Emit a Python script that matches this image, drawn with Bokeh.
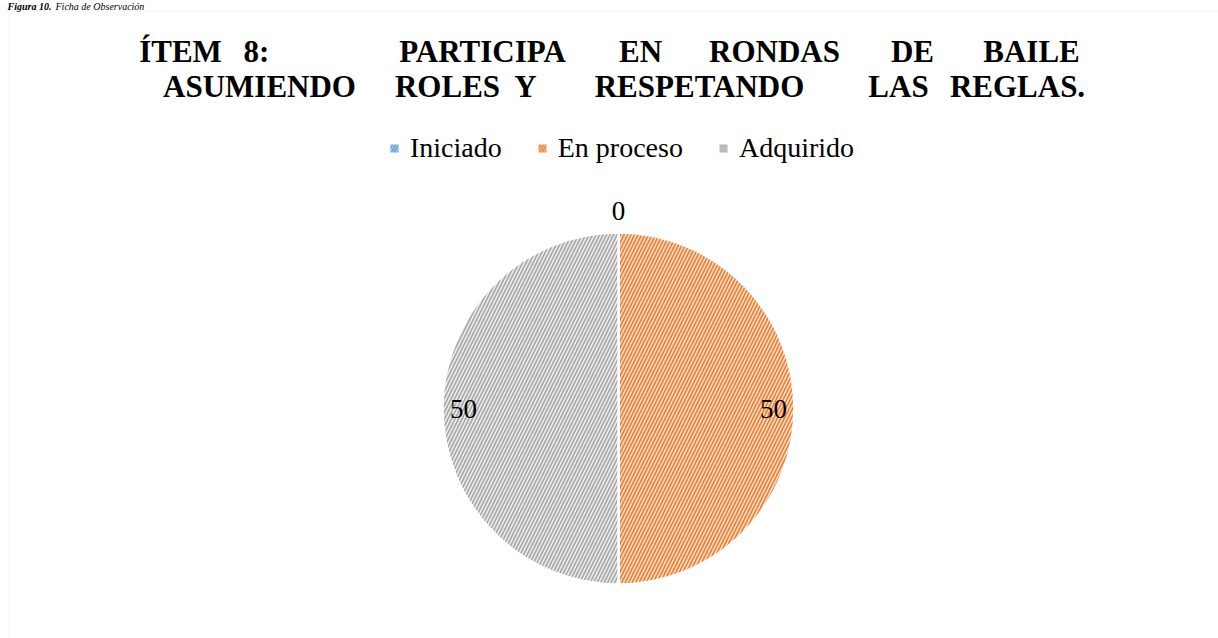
import math
from bokeh.plotting import figure
from bokeh.models import Range1d, Legend, LegendItem, BoxAnnotation, ColumnDataSource
from bokeh.core.properties import value
from bokeh.embed import file_html
from bokeh.resources import INLINE

# ---- data ----
categories = ["Iniciado", "En proceso", "Adquirido"]
values = [0, 50, 50]
title_line1 = ["ÍTEM", "8:", "PARTICIPA", "EN", "RONDAS", "DE", "BAILE"]
title_line2 = ["ASUMIENDO", "ROLES", "Y", "RESPETANDO", "LAS", "REGLAS."]
caption_bold = "Figura 10."
caption_text = "Ficha de Observación"

# ---- styles ----
hatch_colors = ["#5b9bd5", "#ed7d31", "#a5a5a5"]
fill_colors = ["#d3e3f3", "#fcdcc4", "#ebebeb"]
SERIF = "Liberation Serif"

W, H = 1218, 638
p = figure(width=W, height=H, x_range=Range1d(0, W), y_range=Range1d(0, H),
           output_backend="svg", toolbar_location=None, min_border=0)
p.axis.visible = False
p.grid.visible = False
p.outline_line_color = None
p.background_fill_color = "white"
p.border_fill_color = "white"

# chart area border (left + top visible in the window)
p.add_layout(BoxAnnotation(left=8.5, right=W + 50, top=H - 10.5, bottom=-50,
                           fill_alpha=0, line_color="#d9d9d9", line_width=1))

# caption of the document (above the chart frame)
p.text(x=[7], y=[H - 5.5], text=[caption_bold], text_align="left", text_baseline="middle",
       text_font=value(SERIF), text_font_style="bold italic", text_font_size="10px",
       text_color="#000000")
p.text(x=[55], y=[H - 5.5], text=[caption_text], text_align="left", text_baseline="middle",
       text_font=value(SERIF), text_font_style="italic", text_font_size="10px",
       text_color="#000000")

# pie geometry
cx, cy, R = 618, H - 408, 176
total = float(sum(values))
cum = 0.0
lab_x, lab_y, lab_t = [], [], []
legend_items = []
nan = float("nan")
for cat, v, hc, fc in zip(categories, values, hatch_colors, fill_colors):
    a0 = math.pi / 2 - 2 * math.pi * cum / total
    cum += v
    a1 = math.pi / 2 - 2 * math.pi * cum / total
    src = ColumnDataSource(dict(x=[cx], y=[cy], s=[a0], e=[a1]))
    p.wedge(x="x", y="y", radius=R, start_angle="s", end_angle="e",
            direction="clock", source=src,
            fill_color=fc, line_color="white", line_width=2.5,
            hatch_pattern="/", hatch_color=hc, hatch_scale=7, hatch_weight=1.6)
    # legend swatch (proxy glyph, nothing drawn in the plot area)
    proxy = p.quad(left=[nan], right=[nan], top=[nan], bottom=[nan],
                   fill_color=hc, fill_alpha=0.9, line_color=None,
                   hatch_pattern="/", hatch_color="white", hatch_alpha=0.35,
                   hatch_scale=6, hatch_weight=1.2)
    legend_items.append(LegendItem(label=cat, renderers=[proxy]))
    mid = (a0 + a1) / 2
    f = 0.88 if v > 0 else 1.12
    lab_x.append(cx + f * R * math.cos(mid))
    lab_y.append(cy + f * R * math.sin(mid))
    lab_t.append(str(v))

p.text(x=lab_x, y=lab_y, text=lab_t, text_align="center", text_baseline="middle",
       text_font=value(SERIF), text_font_size="27px", text_color="#000000")

# title (justified words)
line1_x = [180, 256, 482, 640, 774, 912, 1031]
line2_x = [259, 447, 525, 699, 898, 1017]
p.text(x=line1_x, y=[H - 51] * len(title_line1), text=title_line1, text_align="center",
       text_baseline="middle", text_font=value(SERIF), text_font_style="bold",
       text_font_size="31px", text_color="#000000")
p.text(x=line2_x, y=[H - 86] * len(title_line2), text=title_line2, text_align="center",
       text_baseline="middle", text_font=value(SERIF), text_font_style="bold",
       text_font_size="31px", text_color="#000000")

legend = Legend(items=legend_items,
                orientation="horizontal", location=(389, 474),
                glyph_width=10, glyph_height=10, label_standoff=11, spacing=35,
                padding=0, margin=0, border_line_color=None, background_fill_alpha=0,
                label_text_font=SERIF, label_text_font_size="28px",
                label_text_color="#000000")
p.add_layout(legend, "center")

open("out.html", "w").write(file_html(p, INLINE))
